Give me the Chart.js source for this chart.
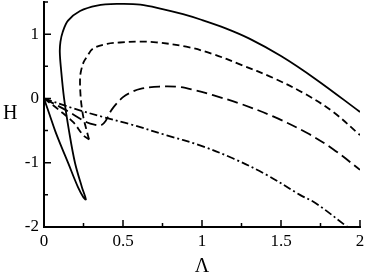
<!DOCTYPE html>
<html>
<head>
<meta charset="utf-8">
<script src="https://cdn.jsdelivr.net/npm/chart.js@4"></script>
<style>
  html, body { margin: 0; padding: 0; background: #fff; }
  canvas { display: block; }
</style>
</head>
<body>
<canvas id="grafico" width="366" height="272"></canvas>
<script>
// Datos (Λ, H)
const solidX = [0, 0.035, 0.07, 0.11, 0.152, 0.215, 0.25, 0.265, 0.24, 0.196, 0.158, 0.127, 0.108, 0.1, 0.104, 0.118, 0.152, 0.228, 0.335, 0.46, 0.61, 0.75, 0.88, 1.0, 1.15, 1.3, 1.5, 1.72, 2.0];
const solidY = [0, -0.25, -0.5, -0.75, -1.0, -1.38, -1.54, -1.57, -1.38, -1.0, -0.5, 0, 0.45, 0.72, 0.88, 1.03, 1.21, 1.36, 1.445, 1.47, 1.46, 1.39, 1.31, 1.22, 1.09, 0.93, 0.66, 0.3, -0.21];

const shortDownX = [0, 0.1, 0.185, 0.248, 0.285];
const shortDownY = [0, -0.19, -0.37, -0.57, -0.64];
const shortUpX = [0.285, 0.27, 0.249, 0.236, 0.23, 0.228, 0.232, 0.25, 0.272, 0.31, 0.4, 0.48, 0.61, 0.71, 0.9, 1.07, 1.24, 1.45, 1.66, 1.83, 2.0];
const shortUpY = [-0.64, -0.5, -0.29, -0.08, 0.1, 0.28, 0.4, 0.56, 0.65, 0.775, 0.85, 0.87, 0.884, 0.873, 0.806, 0.69, 0.53, 0.32, 0.06, -0.21, -0.57];

const longX = [0, 0.144, 0.27, 0.33, 0.36, 0.39, 0.43, 0.5, 0.555, 0.61, 0.73, 0.85, 0.95, 1.07, 1.24, 1.45, 1.66, 1.83, 2.0];
const longY = [0, -0.19, -0.37, -0.415, -0.42, -0.35, -0.17, 0.02, 0.1, 0.15, 0.185, 0.18, 0.13, 0.05, -0.08, -0.28, -0.53, -0.79, -1.11];

const dashDotX = [0, 0.186, 0.375, 0.544, 0.777, 0.987, 1.198, 1.41, 1.62, 1.72, 1.91, 1.94];
const dashDotY = [0, -0.155, -0.29, -0.4, -0.574, -0.73, -0.935, -1.19, -1.5, -1.63, -1.98, -2.04];

// Marcas de los ejes
const xMajor = [0, 0.5, 1, 1.5, 2];
const xMinor = [0.25, 0.75, 1.25, 1.75];
const yMajor = [-2, -1, 0, 1];
const yMinor = [-1.5, -0.5, 0.5, 1.5];

const puntos = (xs, ys) => xs.map((x, i) => ({ x: x, y: ys[i] }));

const serie = (xs, ys, dash) => ({
    data: puntos(xs, ys),
    showLine: true,
    borderColor: '#000',
    borderWidth: 1.8,
    borderDash: dash,
    pointRadius: 0,
    tension: 0.35,
    fill: false
});

// Plugin para las marcas hacia dentro y los títulos de los ejes
const ejesPlugin = {
    id: 'ejes',
    afterDraw(chart) {
        const ctx = chart.ctx;
        const xs = chart.scales.x;
        const ys = chart.scales.y;
        const area = chart.chartArea;
        ctx.save();
        ctx.strokeStyle = '#000';
        ctx.lineWidth = 1.5;
        ctx.beginPath();
        xMajor.forEach(v => { const p = xs.getPixelForValue(v); ctx.moveTo(p, area.bottom); ctx.lineTo(p, area.bottom - 7); });
        xMinor.forEach(v => { const p = xs.getPixelForValue(v); ctx.moveTo(p, area.bottom); ctx.lineTo(p, area.bottom - 4); });
        yMajor.forEach(v => { const p = ys.getPixelForValue(v); ctx.moveTo(area.left, p); ctx.lineTo(area.left + 7, p); });
        yMinor.forEach(v => { const p = ys.getPixelForValue(v); ctx.moveTo(area.left, p); ctx.lineTo(area.left + 4, p); });
        ctx.stroke();

        ctx.fillStyle = '#000';
        ctx.font = '20px "Liberation Serif"';
        ctx.textAlign = 'left';
        ctx.textBaseline = 'middle';
        ctx.fillText('H', 3, 114);
        ctx.textAlign = 'center';
        ctx.textBaseline = 'alphabetic';
        ctx.fillText('Λ', (area.left + area.right) / 2, 272);
        ctx.restore();
    }
};

new Chart(document.getElementById('grafico'), {
    type: 'scatter',
    data: {
        datasets: [
            serie(solidX, solidY, []),
            serie(shortDownX, shortDownY, [7, 4]),
            serie(shortUpX, shortUpY, [7, 4]),
            serie(longX, longY, [11, 5]),
            serie(dashDotX, dashDotY, [8, 3, 2, 3])
        ]
    },
    options: {
        responsive: false,
        animation: false,
        layout: { padding: { left: 0, right: 6, top: 2, bottom: 0 } },
        plugins: { legend: { display: false }, tooltip: { enabled: false } },
        scales: {
            x: {
                type: 'linear',
                min: 0,
                max: 2,
                afterFit: scale => { scale.height = 45; scale.paddingLeft = 0; scale.paddingRight = 0; },
                grid: { display: false, drawTicks: false },
                border: { display: true, color: '#000', width: 2 },
                ticks: {
                    stepSize: 0.25,
                    autoSkip: false,
                    maxRotation: 0,
                    padding: 4,
                    color: '#000',
                    font: { family: 'Liberation Serif', size: 17 },
                    callback: v => (Math.abs(v * 2 - Math.round(v * 2)) < 1e-6 ? String(v) : '')
                }
            },
            y: {
                type: 'linear',
                min: -2,
                max: 1.5,
                afterFit: scale => { scale.width = 44; scale.paddingTop = 0; scale.paddingBottom = 0; },
                grid: { display: false, drawTicks: false },
                border: { display: true, color: '#000', width: 2 },
                ticks: {
                    stepSize: 0.5,
                    autoSkip: false,
                    padding: 5,
                    color: '#000',
                    font: { family: 'Liberation Serif', size: 17 },
                    callback: v => (Number.isInteger(v) ? String(v) : '')
                }
            }
        }
    },
    plugins: [ejesPlugin]
});
</script>
</body>
</html>
